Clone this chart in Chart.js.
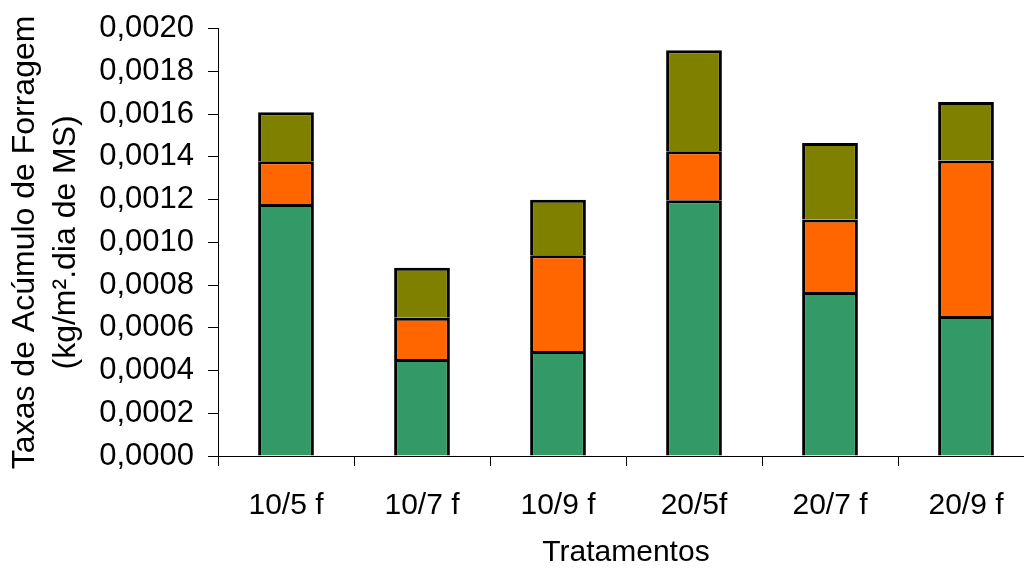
<!DOCTYPE html>
<html>
<head>
<meta charset="utf-8">
<script src="https://cdn.jsdelivr.net/npm/chart.js@4"></script>
<style>
  html, body { margin: 0; padding: 0; background: #fff; overflow: hidden; }
  #wrap { width: 1040px; height: 572px; position: relative; }
</style>
</head>
<body>
<div id="wrap"><canvas id="taxasChart"></canvas></div>
<script>
// ----- Data -----
const tratamentos = ['10/5 f', '10/7 f', '10/9 f', '20/5f', '20/7 f', '20/9 f'];
const serieVerde   = [0.00118, 0.000454, 0.000491, 0.001197, 0.000768, 0.000655];
const serieLaranja = [0.00020, 0.000193, 0.000449, 0.000230, 0.000339, 0.000728];
const serieOliva   = [0.000229, 0.000234, 0.000259, 0.000472, 0.000358, 0.000274];
const yMin = 0, yMax = 0.002, yStep = 0.0002;

const fontFamily = '"Liberation Sans", Arial, sans-serif';

// ----- Chart -----
const ctx = document.getElementById('taxasChart').getContext('2d');
const taxasChart = new Chart(ctx, {
    type: 'bar',
    data: {
        labels: tratamentos,
        datasets: [
            { label: 'Verde', data: serieVerde, backgroundColor: '#339966' },
            { label: 'Laranja', data: serieLaranja, backgroundColor: '#FF6600' },
            { label: 'Oliva', data: serieOliva, backgroundColor: '#808000' }
        ]
    },
    options: {
        responsive: true,
        maintainAspectRatio: false,
        animation: false,
        datasets: {
            bar: {
                borderColor: '#000',
                borderWidth: 3,
                categoryPercentage: 1,
                barPercentage: 0.41
            }
        },
        layout: { padding: { top: 15, right: 6, left: 0, bottom: 0 } },
        plugins: {
            legend: { display: false },
            tooltip: { enabled: false }
        },
        scales: {
            x: {
                stacked: true,
                grid: { drawOnChartArea: false, tickLength: 10, color: '#000', offset: true },
                border: { display: true, color: '#000', width: 1 },
                ticks: { color: '#000', padding: 22, font: { family: fontFamily, size: 30 } },
                title: {
                    display: true, text: 'Tratamentos', color: '#000',
                    font: { family: fontFamily, size: 30, lineHeight: 1 },
                    padding: { top: 0, bottom: 4 }
                },
                afterFit: (scale) => { scale.height = 116; }
            },
            y: {
                stacked: true,
                min: yMin, max: yMax,
                grid: { drawOnChartArea: false, tickLength: 10, color: '#000' },
                border: { display: true, color: '#000', width: 1 },
                ticks: {
                    stepSize: yStep, color: '#000', padding: 14,
                    // small lineHeight keeps the top label padding from pushing the plot down
                    font: { family: fontFamily, size: 31, lineHeight: 0.95 },
                    callback: (v) => Number(v).toFixed(4).replace('.', ',')
                },
                title: {
                    display: true,
                    text: ['Taxas de Acúmulo de Forragem', '(kg/m².dia de MS)'],
                    color: '#000',
                    font: { family: fontFamily, size: 32, lineHeight: 1.3 },
                    padding: { top: 4, bottom: 0 }
                },
                afterFit: (scale) => { scale.width = 218; }
            }
        }
    }
});
</script>
</body>
</html>
